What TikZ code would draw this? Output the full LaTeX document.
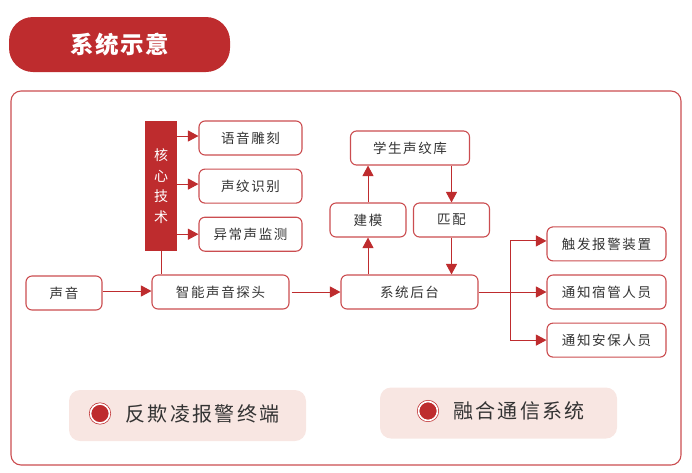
\documentclass[tikz,border=0pt]{standalone}
\usepackage{fontspec}
\usepackage[HTML]{xcolor}
\usetikzlibrary{positioning, arrows.meta}
\setmainfont{Noto Sans CJK SC}
\newfontfamily\cjk[LetterSpace=12]{Noto Sans CJK SC}
\newfontfamily\cjkwide[LetterSpace=12]{Noto Sans CJK SC}
\newfontfamily\cjktitle[LetterSpace=6]{Noto Sans CJK SC}
\definecolor{coreRed}{HTML}{BE2C2E}
\definecolor{edgeRed}{HTML}{CB4D50}
\definecolor{paleRed}{HTML}{F8E6E2}
\definecolor{inkGray}{HTML}{333333}

\begin{document}
\begin{tikzpicture}[x=1pt, y=-1pt, >={Triangle[length=10.5pt, width=11pt]},
    box/.style={draw=edgeRed, line width=1.1pt, rounded corners=6pt, fill=white, minimum height=34pt,
        inner sep=0pt, text=inkGray, font=\cjk\fontsize{13.5}{16}\selectfont},
    wideBox/.style={box, minimum width=119pt},
    toolBox/.style={box, minimum width=103pt},
    smallBox/.style={box, minimum width=76pt},
    longBox/.style={box, minimum width=137pt},
    link/.style={coreRed, line width=1pt},
    tag/.style={fill=paleRed, rounded corners=11pt, minimum width=237pt, minimum height=51pt, inner sep=0pt},
    tagText/.style={inner sep=0pt, text=inkGray, font=\cjkwide\fontsize{20}{24}\selectfont},
    tagDot/.style={circle, inner sep=0pt, minimum size=19pt, fill=coreRed, draw=coreRed, line width=0.7pt,
        double=white, double distance=1.6pt}]
    \useasboundingbox (0,0) rectangle (692,472);

    % 1. Title and outer frame
    \node (title) at (119.5,44.5) [fill=coreRed, rounded corners=24pt, minimum width=221pt, minimum height=55pt,
        inner sep=0pt, text=white, font=\cjktitle\bfseries\fontsize{23.5}{28}\selectfont] {系统示意};
    \node (frame) at (346,278) [draw=edgeRed, line width=1.1pt, rounded corners=10pt, minimum width=670pt, minimum height=374pt] {};

    % 2. Core technology column and its tools
    \node (core) at (161,186) [fill=coreRed, minimum width=32pt, minimum height=130pt, inner sep=0pt, text=white,
        align=center, font=\fontsize{14}{20.5}\selectfont] {核\\心\\技\\术};
    \node (carve) at (250.5,138) [toolBox] {语音雕刻};
    \node (voiceprint) [toolBox, below=13pt of carve] {声纹识别};
    \node (monitor) [toolBox, below=13pt of voiceprint] {异常声监测};

    % 3. Main row
    \node (sound) at (64,293) [smallBox] {声音};
    \node (probe) at (220.5,292) [longBox] {智能声音探头};
    \node (backend) at (409.5,292) [longBox] {系统后台};

    % 4. Modelling and matching
    \node (model) at (368,220) [smallBox] {建模};
    \node (match) at (451.5,220) [smallBox] {匹配};
    \node (library) at (410,148) [wideBox] {学生声纹库};

    % 5. Outputs
    \node (notifyDorm) at (606.5,292) [wideBox] {通知宿管人员};
    \node (trigger) [wideBox, above=13pt of notifyDorm] {触发报警装置};
    \node (notifyGuard) [wideBox, below=13pt of notifyDorm] {通知安保人员};
    \coordinate (branch) at (510,292);

    % 6. Bottom tags
    \node (tagA) at (187.5,415.5) [tag] {};
    \node (tagB) at (498.5,413) [tag] {};
    \node (dotA) at (100,413.5) [tagDot] {};
    \node (dotB) at (428,411) [tagDot] {};
    \node (textA) at (202.5,414) [tagText] {反欺凌报警终端};
    \node (textB) at (519,411) [tagText] {融合通信系统};

    % 7. Arrows from the core column
    \draw[link, ->] ([yshift=2pt]core.east |- carve) -- ([yshift=2pt]carve.west);
    \draw[link, ->] ([yshift=2pt]core.east |- voiceprint) -- ([yshift=2pt]voiceprint.west);
    \draw[link, ->] (core.east |- monitor) -- (monitor);
    \draw[link] (core) -- (core |- probe.north);

    % 8. Main row arrows
    \draw[link, ->] ([yshift=2pt]sound.east) -- ([yshift=2pt]probe.west |- sound);
    \draw[link, ->, shorten <=2pt] (probe) -- (backend);

    % 9. Up and down between backend and library
    \draw[link, ->] (backend.north -| model) -- (model);
    \draw[link, ->] (model) -- (library.south -| model);
    \draw[link, ->] (library.south -| match) -- (match);
    \draw[link, ->] (match) -- (backend.north -| match);

    % 10. Output branch
    \draw[link, ->] (backend) -- (notifyDorm);
    \draw[link, ->] (branch) |- ([yshift=3pt]trigger.west);
    \draw[link, ->] (branch) |- (notifyGuard);
\end{tikzpicture}
\end{document}
